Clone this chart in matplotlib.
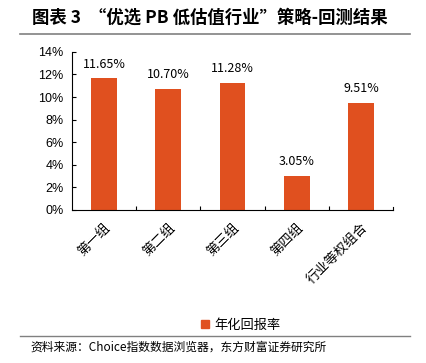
import matplotlib.pyplot as plt
import matplotlib.lines as mlines
from matplotlib.patches import Patch

plt.rcParams['font.family'] = ['Noto Sans CJK SC', 'DejaVu Sans']

groups = ['第一组', '第二组', '第三组', '第四组', '行业等权组合']
returns = [11.65, 10.70, 11.28, 3.05, 9.51]
yticks = [0, 2, 4, 6, 8, 10, 12, 14]
bar_color = '#E0501F'

fig = plt.figure(figsize=(4.26, 3.63), dpi=100)
ax = fig.add_axes([0.169, 0.4215, 0.7535, 0.4355])

x = range(len(groups))
ax.bar(x, returns, width=0.4, color=bar_color, zorder=2)
for xi, v in zip(x, returns):
    ax.text(xi, v + 0.7, f'{v:.2f}%', ha='center', va='bottom', fontsize=9)

ax.set_xlim(-0.5, len(groups) - 0.5)
ax.set_ylim(0, 14)
ax.set_yticks(yticks)
ax.set_yticklabels([f'{t}%' for t in yticks], family=['Liberation Sans'], fontsize=9)
ax.set_xticks([i + 0.5 for i in range(len(groups) - 1)], minor=False)
ax.set_xticklabels([])
ax.set_xticks(list(x), minor=True)
ax.set_xticklabels(groups, minor=True, rotation=45, ha='right', rotation_mode='anchor', fontsize=9.5)
ax.tick_params(axis='x', which='minor', length=0, pad=8)
ax.tick_params(axis='x', which='major', direction='in', length=3)
ax.tick_params(axis='y', direction='in', length=3, pad=6)
ax.spines['top'].set_visible(False)
ax.spines['right'].set_visible(False)
ax.plot([1, 1], [0, 0.02], transform=ax.transAxes, color='black', lw=0.8, clip_on=False)

ax.legend(handles=[Patch(color=bar_color, label='年化回报率')], loc='center',
          bbox_to_anchor=(0.565, 1 - 325 / 363), bbox_transform=fig.transFigure, frameon=False,
          fontsize=9.5, handlelength=0.6, handleheight=0.6, handletextpad=0.4)

fig.text(32 / 426, 1 - 18 / 363, '图表 3  “优选 PB 低估值行业”策略-回测结果', fontsize=12.5,
         fontweight='bold', va='center', ha='left')
fig.add_artist(mlines.Line2D([20 / 426, 410 / 426], [1 - 34 / 363] * 2, color='#808080', lw=1.2))
fig.add_artist(mlines.Line2D([20 / 426, 410 / 426], [1 - 336 / 363] * 2, color='#808080', lw=1.0))
fig.text(30 / 426, 1 - 347 / 363, '资料来源：Choice指数数据浏览器，东方财富证券研究所', fontsize=8.5,
         va='center', ha='left')

fig.savefig('out.png', dpi=100)
